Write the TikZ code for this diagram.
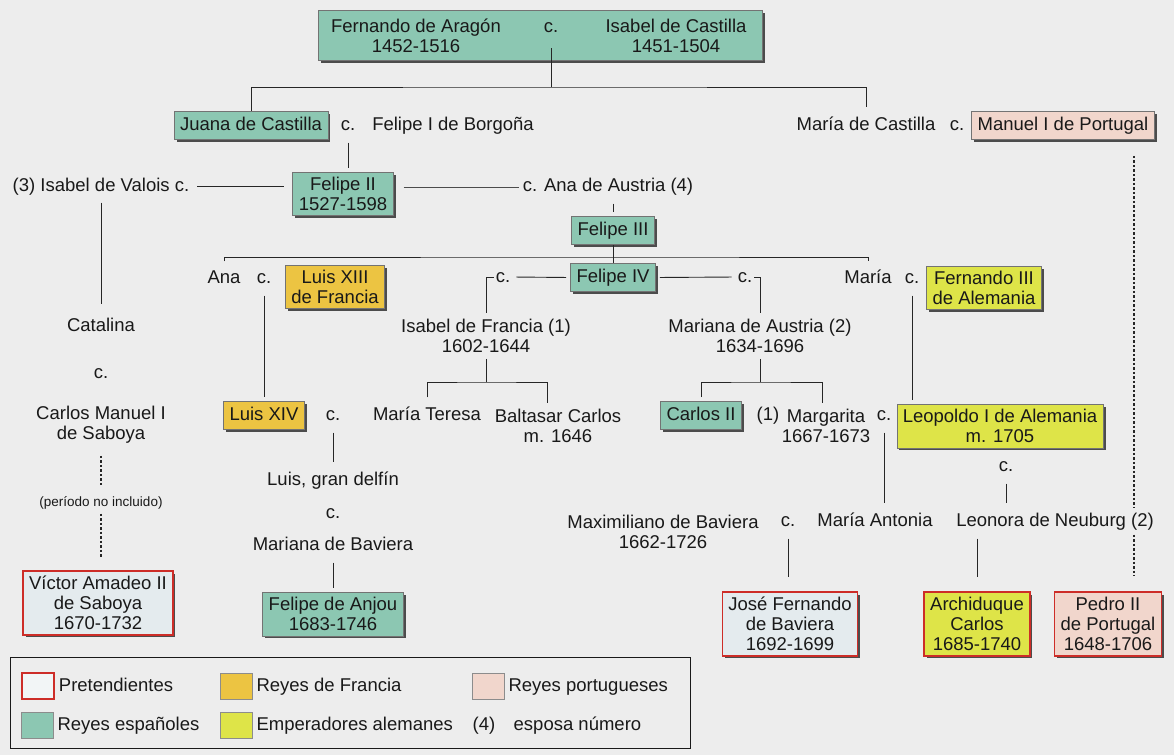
\documentclass[tikz,border=0pt]{standalone}
\usepackage{fontspec}
\setmainfont{Liberation Sans}
\usepackage{tikz}
\usetikzlibrary{positioning}
\usetikzlibrary{shadows}
\newcommand{\letra}{\fontsize{18.5}{20}\selectfont}
\newcommand{\letrap}{\fontsize{13.5}{15}\selectfont}
\definecolor{fondo}{RGB}{237,237,237}
\definecolor{verdeR}{RGB}{140,199,178}
\definecolor{oroR}{RGB}{236,196,66}
\definecolor{amarilloR}{RGB}{222,228,72}
\definecolor{rosaR}{RGB}{241,214,204}
\definecolor{grisP}{RGB}{228,235,238}
\definecolor{rojoP}{RGB}{205,45,40}
\definecolor{tinta}{RGB}{25,25,25}
\tikzstyle{every node}+=[inner sep=2pt, text=tinta, font=\letra]
\tikzstyle{tx}=[inner xsep=2pt, inner ysep=4pt, text height=15pt, text depth=4pt]
\tikzstyle{una}=[text height=14pt, text depth=4pt]
\tikzstyle{dos}=[align=center]
\tikzstyle{caja}=[draw=black!55, line width=0.6pt, inner xsep=6pt, inner ysep=5pt, drop shadow={shadow xshift=2.5pt, shadow yshift=-2.5pt, fill=black!70, opacity=1}]
\tikzstyle{rojo}=[draw=rojoP, line width=1.5pt]
\tikzstyle{esp}=[caja, fill=verdeR]
\tikzstyle{fra}=[caja, fill=oroR]
\tikzstyle{ale}=[caja, fill=amarilloR]
\tikzstyle{por}=[caja, fill=rosaR]
\tikzstyle{pret}=[caja, fill=grisP, rojo]
\tikzstyle{mues}=[minimum width=32pt, minimum height=26pt, inner sep=0pt, draw=black!45, line width=0.6pt]
\tikzstyle{lin}=[line width=0.9pt, draw=black!85]
\tikzstyle{gr}=[line width=1.8pt, draw=black!70]
\tikzstyle{pto}=[line width=1.2pt, draw=black!85, dash pattern=on 2.5pt off 2pt]
\tikzstyle{hueco}=[shorten <=4pt, shorten >=4pt]

\begin{document}
\begin{tikzpicture}[x=1pt, y=1pt]
        \fill [fondo] (0,0) rectangle (1174,-755);
        \useasboundingbox (0,0) rectangle (1174,-755);
        \draw (540,-35) node [esp, minimum width=444pt, minimum height=50pt] (reyes) {};
        \draw (416,-36) node [dos] (fernando) {Fernando de Aragón\\1452-1516};
        \draw (551,-27) node [tx] (cfi) {c.};
        \draw (676,-36) node [dos] (isabel) {Isabel de Castilla\\1451-1504};
        \coordinate (b1) at (551,-87);
        \draw [lin] ([yshift=12pt]cfi |- reyes.south) -- (b1);
        \draw (251,-125.5) node [esp, una] (juana) {Juana de Castilla};
        \draw (348,-125) node [tx] (cjuana) {c.};
        \draw (453,-125) node [tx] (felipe1) {Felipe I de Borgoña};
        \draw (866,-125) node [tx] (mariac) {María de Castilla};
        \draw (957,-125) node [tx] (cmariac) {c.};
        \draw (1063,-125.5) node [por, una] (manuel) {Manuel I de Portugal};
        \draw [lin, shorten >=4pt] (juana.north) |- (b1) -| (mariac.north);
        \draw (101,-186) node [tx] (isabelv) {(3) Isabel de Valois c.};
        \draw (343,-194) node [esp, dos] (felipe2) {Felipe II\\1527-1598};
        \draw (608,-186) node [tx] (anaa) {c. Ana de Austria (4)};
        \draw [lin, shorten <=6pt, shorten >=8pt] (isabelv.east) -- (felipe2.west |- isabelv.east);
        \draw [gr, shorten <=10pt, shorten >=2pt] ([yshift=-1.5pt]felipe2.east |- anaa.west) -- ([yshift=-1.5pt]anaa.west);
        \draw [lin, hueco] (cjuana.south) -- (cjuana |- felipe2.north);
        \draw (613,-230.5) node [esp, una] (felipe3) {Felipe III};
        \draw [lin, hueco] (felipe3.north |- anaa.south) -- (felipe3.north);
        \draw (224,-278) node [tx] (ana) {Ana};
        \draw (264,-278) node [tx] (cana) {c.};
        \draw (335,-287) node [fra, dos] (luis13) {Luis XIII\\de Francia};
        \draw (503,-277) node [tx] (cif) {c.};
        \draw (613,-277.5) node [esp, una] (felipe4) {Felipe IV};
        \draw (745,-277) node [tx] (cma) {c.};
        \draw (868,-278) node [tx] (maria) {María};
        \draw (912,-278) node [tx] (cmaria) {c.};
        \draw (984,-288) node [ale, dos] (fernando3) {Fernando III\\de Alemania};
        \coordinate (b3) at (613,-257);
        \draw [lin] (felipe3.south) -- (felipe4.north);
        \draw [lin, shorten <=3pt, shorten >=3pt] (ana.north) |- (b3) -| (maria.north);
        \draw (101,-326) node [tx] (catalina) {Catalina};
        \draw (101,-373) node [tx] (ccat) {c.};
        \draw (101,-425) node [dos] (carlosm) {Carlos Manuel I\\de Saboya};
        \draw (101,-503) node [font=\letrap] (periodo) {(período no incluido)};
        \draw (98,-603) node [pret, dos] (victor) {Víctor Amadeo II\\de Saboya\\1670-1732};
        \draw [lin, shorten <=3pt, shorten >=8pt] (isabelv.south) -- (catalina.north);
        \draw [pto, shorten <=10pt, shorten >=8pt] (carlosm.south) -- (periodo.north);
        \draw [pto, shorten <=2pt, shorten >=12pt] (periodo.south) -- (periodo |- victor.north);
        \draw (486,-336) node [dos] (isabelf) {Isabel de Francia (1)\\1602-1644};
        \draw (760,-336) node [dos] (marianaa) {Mariana de Austria (2)\\1634-1696};
        \draw [lin, shorten >=4pt] (cif.west) -| (isabelf.north);
        \draw [lin, hueco] (cif.east) -- (felipe4.west);
        \draw [lin, hueco] (felipe4.east) -- (cma.west);
        \draw [lin, shorten >=4pt] (cma.east) -| (marianaa.north);
        \draw (264,-415.5) node [fra, una] (luis14) {Luis XIV};
        \draw (333,-415) node [tx] (cl14) {c.};
        \draw (333,-480) node [tx] (delfin) {Luis, gran delfín};
        \draw (333,-513) node [tx] (cdelf) {c.};
        \draw (333,-545) node [tx] (mbav) {Mariana de Baviera};
        \draw (333,-614) node [esp, dos] (anjou) {Felipe de Anjou\\1683-1746};
        \draw [lin, hueco] (cana.south) -- (luis14.north);
        \draw [lin, hueco] (cl14.south) -- (delfin.north);
        \draw [lin, hueco] (mbav.south) -- (anjou.north);
        \draw (427,-415) node [tx] (mteresa) {María Teresa};
        \draw (558,-426) node [dos] (baltasar) {Baltasar Carlos\\m. 1646};
        \draw (701,-415.5) node [esp, una] (carlos2) {Carlos II};
        \draw (768,-415) node [tx] (uno) {(1)};
        \draw (826,-426) node [dos] (margarita) {Margarita\\1667-1673};
        \draw (884,-415) node [tx] (cmar) {c.};
        \draw (1000,-426) node [ale, dos] (leopoldo) {Leopoldo I de Alemania\\m. 1705};
        \draw [lin, hueco] (cmaria.south) -- (cmaria |- leopoldo.north);
        \coordinate (b4) at (486,-382);
        \coordinate (b5) at (760,-382);
        \draw [lin, shorten <=4pt] (isabelf.south) -- (b4);
        \draw [lin, hueco] (mteresa.north) |- (b4) -| ([xshift=-11pt]baltasar.north);
        \draw [lin, shorten <=4pt] (marianaa.south) -- (b5);
        \draw [lin, hueco] (carlos2.north) |- (b5) -| ([xshift=-4pt]margarita.north);
        \draw (1006,-466) node [tx] (cleo) {c.};
        \draw (663,-532) node [dos] (maxb) {Maximiliano de Baviera\\1662-1726};
        \draw (788,-521) node [tx] (cmax) {c.};
        \draw (875,-521) node [tx] (mantonia) {María Antonia};
        \draw (1055,-521) node [tx] (leonora) {Leonora de Neuburg (2)};
        \draw [lin, hueco] (cleo.south) -- (cleo |- leonora.north);
        \draw [lin, hueco] (cmar.south) -- (cmar |- mantonia.north);
        \draw (790,-624) node [pret, dos] (josef) {José Fernando\\de Baviera\\1692-1699};
        \draw (977,-624) node [ale, rojo, dos] (archi) {Archiduque\\Carlos\\1685-1740};
        \draw (1108,-624) node [por, rojo, dos] (pedro2) {Pedro II\\de Portugal\\1648-1706};
        \draw [lin, shorten <=4pt, shorten >=14pt] (cmax.south) -- (cmax |- josef.north);
        \draw [lin, shorten <=4pt, shorten >=14pt] (archi.north |- leonora.south) -- (archi.north);
        \draw [pto, shorten <=16pt] ([xshift=71pt]manuel.south) -- ([xshift=71pt]manuel.south |- leonora.north);
        \draw [pto, shorten >=16pt] ([xshift=26pt]pedro2.north |- leonora.south) -- ([xshift=26pt]pedro2.north);
        \draw (350,-702.5) node [draw=tinta, line width=0.9pt, minimum width=680pt, minimum height=91pt, inner sep=0pt] (leyenda) {};
        \draw (38,-686) node [mues, fill=white!50!grisP, rojo] (m1) {};
        \draw node [tx, right=2pt of m1] (l1) {Pretendientes};
        \draw (236,-686) node [mues, fill=oroR] (m2) {};
        \draw node [tx, right=2pt of m2] (l2) {Reyes de Francia};
        \draw (488,-686) node [mues, fill=rosaR] (m3) {};
        \draw node [tx, right=2pt of m3] (l3) {Reyes portugueses};
        \draw (37,-725) node [mues, fill=verdeR] (m4) {};
        \draw node [tx, right=2pt of m4] (l4) {Reyes españoles};
        \draw (236,-725) node [mues, fill=amarilloR] (m5) {};
        \draw node [tx, right=2pt of m5] (l5) {Emperadores alemanes};
        \draw (484,-725) node [tx] (n4) {(4)};
        \draw node [tx, right=14pt of n4] (l6) {esposa número};
    \end{tikzpicture}
\end{document}
